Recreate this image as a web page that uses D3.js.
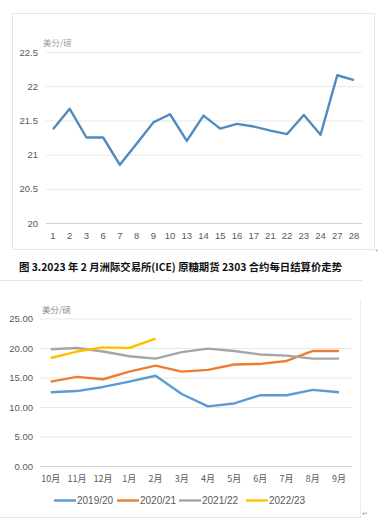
<!DOCTYPE html>
<html lang="zh">
<head>
<meta charset="UTF-8">
<title>原糖期货价格</title>
<script src="https://d3js.org/d3.v7.min.js"></script>
<style>
  body { margin: 0; background: #fff; }
  svg text { font-family: "Liberation Sans", "DejaVu Sans", sans-serif; }
  .cjk { font-family: "Noto Sans CJK SC", sans-serif; }
</style>
</head>
<body>
<div id="chart"></div>
<script>
// top chart: Feb 2023 trading days, ICE raw sugar 2303 settlement
const days = ["1","2","3","6","7","8","9","10","13","14","15","16","17","21","22","23","24","27","28"];
const dayPrice = [21.37, 21.67, 21.25, 21.25, 20.85, 21.16, 21.47, 21.59, 21.2, 21.57, 21.38, 21.45, 21.41, 21.35, 21.3, 21.58, 21.29, 22.16, 22.09];
const dayTicks = [20, 20.5, 21, 21.5, 22, 22.5];

// bottom chart: monthly averages by season
const months = ["10月","11月","12月","1月","2月","3月","4月","5月","6月","7月","8月","9月"];
const seasons = ["2019/20", "2020/21", "2021/22", "2022/23"];
const s1920 = [12.5, 12.7, 13.4, 14.3, 15.3, 12.2, 10.1, 10.6, 12.0, 12.0, 12.9, 12.5];
const s2021 = [14.3, 15.1, 14.7, 16.0, 17.0, 16.0, 16.3, 17.2, 17.3, 17.8, 19.5, 19.5];
const s2122 = [19.8, 20.0, 19.4, 18.6, 18.2, 19.3, 19.9, 19.5, 18.9, 18.7, 18.2, 18.2];
const s2223 = [18.3, 19.4, 20.1, 20.0, 21.6];
const monthTicks = [0, 5, 10, 15, 20, 25];
const colors = ["#5b9bd5", "#ed7d31", "#a5a5a5", "#ffc000"];

const W = 378, H = 519;
const svg = d3.select("#chart").append("svg")
    .attr("width", W).attr("height", H);

// ---------- top chart ----------
svg.append("rect")
    .attr("x", 12.5).attr("y", 13.5).attr("width", 362).attr("height", 236)
    .attr("fill", "none").attr("stroke", "#e6e6e6");

const x1 = d3.scalePoint().domain(days).range([53, 354]);
const y1 = d3.scaleLinear().domain([20, 22.5]).range([223, 52]);

const g1 = svg.append("g");
g1.selectAll(".grid1").data(dayTicks).enter().append("line")
    .attr("x1", 46).attr("x2", 362)
    .attr("y1", d => y1(d) + 0.5).attr("y2", d => y1(d) + 0.5)
    .attr("stroke", d => d === 20 ? "#d0d0d0" : "#e8e8e8");

g1.selectAll(".ytick1").data(dayTicks).enter().append("text")
    .attr("x", 38).attr("y", d => y1(d) + 3.5)
    .attr("text-anchor", "end")
    .attr("font-size", 9.5).attr("fill", "#595959")
    .text(d => d);

g1.selectAll(".xtick1").data(days).enter().append("text")
    .attr("x", d => x1(d)).attr("y", 239)
    .attr("text-anchor", "middle")
    .attr("font-size", 9.5).attr("fill", "#595959")
    .text(d => d);

g1.append("text").attr("class", "cjk")
    .attr("x", 43).attr("y", 46)
    .attr("font-size", 8.5).attr("fill", "#9a9a9a")
    .text("美分/磅");

g1.append("path")
    .datum(dayPrice)
    .attr("fill", "none").attr("stroke", "#4f8bc0").attr("stroke-width", 2.4)
    .attr("stroke-linejoin", "round")
    .attr("d", d3.line().x((d, i) => x1(days[i])).y(d => y1(d)));

svg.append("text").attr("x", 375).attr("y", 252)
    .attr("font-size", 6).attr("fill", "#999").text("+");

// caption
svg.append("text").attr("class", "cjk")
    .attr("x", 19).attr("y", 271)
    .attr("font-size", 10.5).attr("font-weight", "bold").attr("fill", "#111")
    .attr("textLength", 323).attr("lengthAdjust", "spacingAndGlyphs")
    .text("图 3.2023 年 2 月洲际交易所(ICE) 原糖期货 2303 合约每日结算价走势");

svg.append("line").attr("x1", 0).attr("x2", 362).attr("y1", 280.5).attr("y2", 280.5)
    .attr("stroke", "#e3e3e3");

// ---------- bottom chart ----------
const x2 = d3.scalePoint().domain(months).range([50.7, 339]);
const y2 = d3.scaleLinear().domain([0, 25]).range([466, 318.5]);

const g2 = svg.append("g");
g2.append("line").attr("x1", 360.5).attr("x2", 360.5).attr("y1", 300).attr("y2", 517)
    .attr("stroke", "#ededed");
g2.append("line").attr("x1", 0).attr("x2", 361).attr("y1", 517.5).attr("y2", 517.5)
    .attr("stroke", "#e3e3e3");

g2.selectAll(".grid2").data(monthTicks).enter().append("line")
    .attr("x1", 40).attr("x2", 352)
    .attr("y1", d => y2(d) + 0.5).attr("y2", d => y2(d) + 0.5)
    .attr("stroke", d => d === 0 ? "#d0d0d0" : "#e8e8e8");

g2.selectAll(".ytick2").data(monthTicks).enter().append("text")
    .attr("x", 33).attr("y", d => y2(d) + 3.5)
    .attr("text-anchor", "end")
    .attr("font-size", 9.5).attr("fill", "#595959")
    .text(d => d.toFixed(2));

g2.selectAll(".xtick2").data(months).enter().append("text").attr("class", "cjk")
    .attr("x", d => x2(d)).attr("y", 482)
    .attr("text-anchor", "middle")
    .attr("font-size", 9).attr("fill", "#595959")
    .text(d => d);

g2.append("text").attr("class", "cjk")
    .attr("x", 42).attr("y", 313)
    .attr("font-size", 8.5).attr("fill", "#8a8a8a")
    .text("美分/磅");

const line2 = d3.line().x((d, i) => x2(months[i])).y(d => y2(d));
[s1920, s2021, s2122, s2223].forEach((s, k) => {
    g2.append("path").datum(s)
        .attr("fill", "none").attr("stroke", colors[k]).attr("stroke-width", 2.4)
        .attr("stroke-linejoin", "round")
        .attr("d", line2);
});

// legend
const legX = [54, 117, 179, 246];
seasons.forEach((s, k) => {
    g2.append("line").attr("x1", legX[k]).attr("x2", legX[k] + 22)
        .attr("y1", 500.5).attr("y2", 500.5)
        .attr("stroke", colors[k]).attr("stroke-width", 2.4);
    g2.append("text").attr("x", legX[k] + 23).attr("y", 504)
        .attr("font-size", 10).attr("fill", "#595959")
        .text(s);
});

svg.append("text").attr("x", 362).attr("y", 516)
    .attr("font-size", 7).attr("fill", "#999").text("↵");
</script>
</body>
</html>
